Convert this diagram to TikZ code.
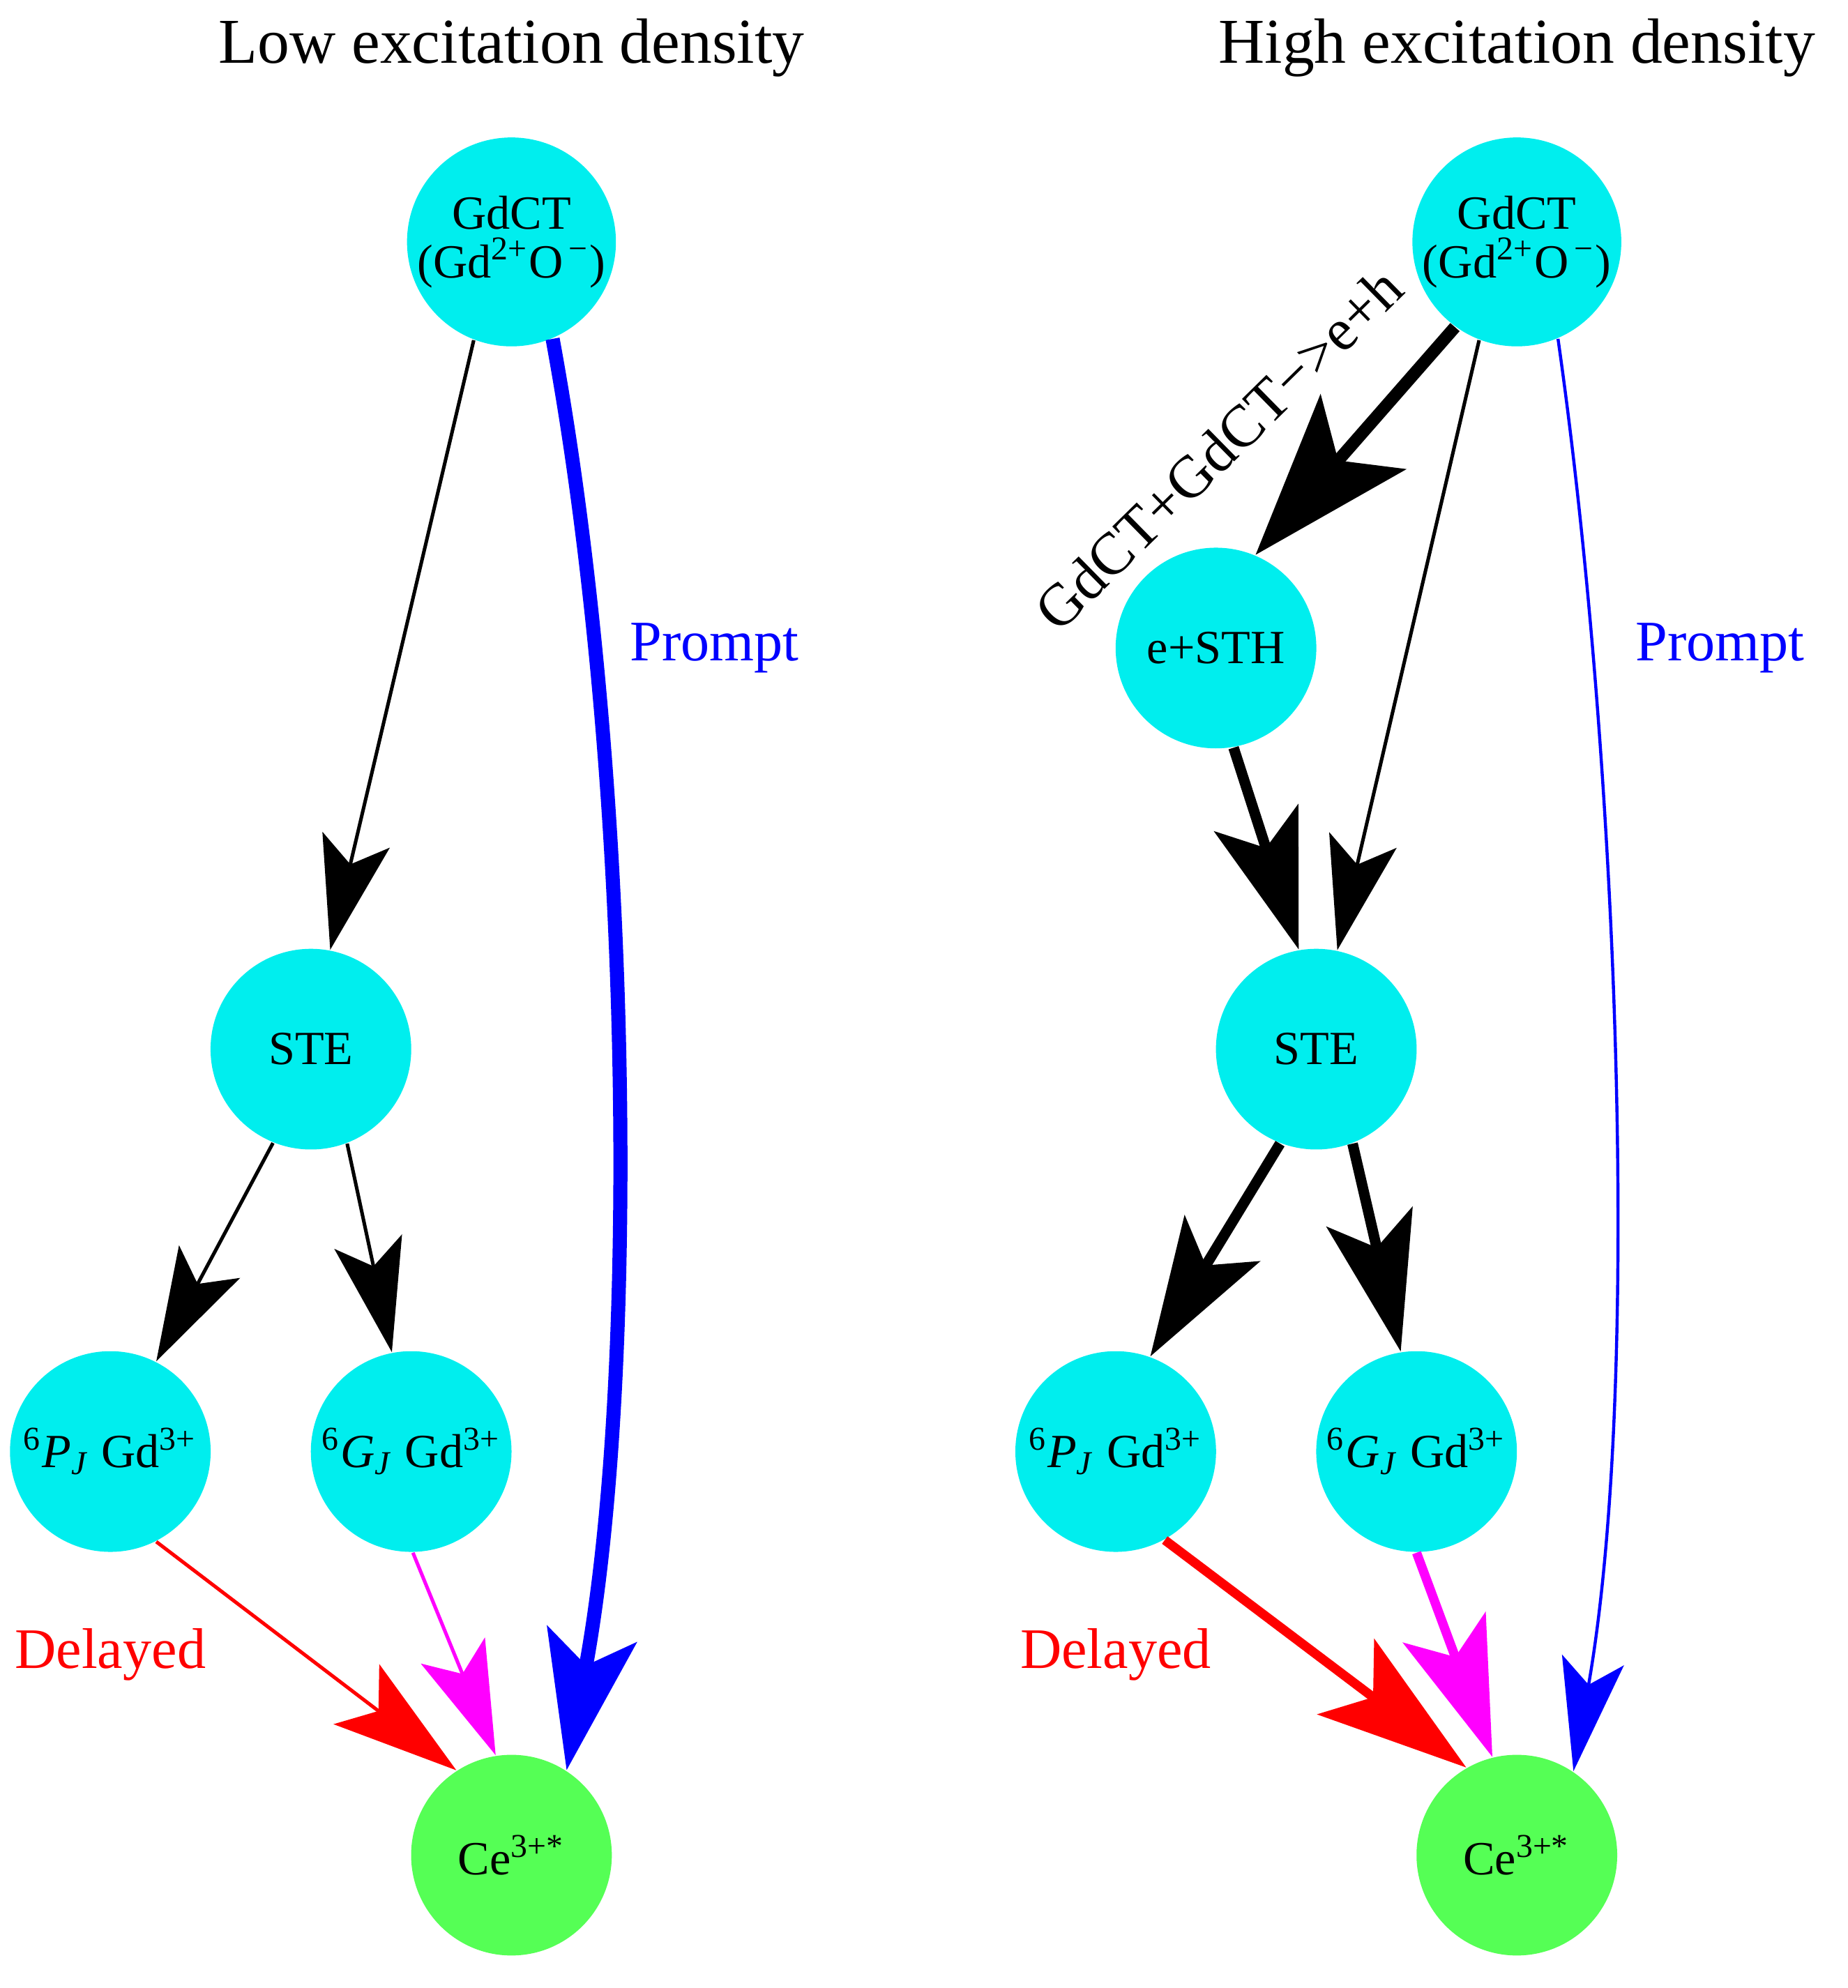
\documentclass[tikz,border=0pt]{standalone}
\usepackage{fontspec}
\setmainfont{Liberation Serif}
\usetikzlibrary{arrows.meta}
\definecolor{cy}{RGB}{0,238,238}
\definecolor{gr}{RGB}{85,255,85}
\definecolor{mg}{RGB}{255,0,255}
\begin{document}
\begin{tikzpicture}[x=0.01cm,y=-0.01cm,
  st/.style={circle,fill=cy,minimum size=1.6cm,inner sep=0pt,font=\fontsize{10.8}{12}\selectfont},
  ce/.style={st,fill=gr},
  ttl/.style={font=\fontsize{14.5}{16}\selectfont},
  lab/.style={font=\fontsize{13}{15}\selectfont},
  thin/.style={line width=0.8pt,-{Stealth[length=0.9cm,width=0.55cm,inset=0.2cm]}},
  thick/.style={line width=2.4pt,-{Stealth[length=1.1cm,width=0.7cm,inset=0.25cm]}}]
\useasboundingbox (0,0) rectangle (1474,1586);
\node[ttl] (t1) at (408,38) {Low excitation density};
\node[ttl] (t2) at (1210,38) {High excitation density};
% left
\node[st,align=center] (gl) at (408,193) {GdCT\\[-1pt](Gd\textsuperscript{2+}O\textsuperscript{\,−})};
\node[st] (sl) at (248,837) {STE};
\node[st] (pl) at (88,1158) {\textsuperscript{6}\textit{P}\textsubscript{\textit{J}} Gd\textsuperscript{3+}};
\node[st] (jl) at (328,1158) {\textsuperscript{6}\textit{G}\textsubscript{\textit{J}} Gd\textsuperscript{3+}};
\node[ce] (cl) at (408,1480) {Ce\textsuperscript{3+*}};
\node[lab,text=blue] (prl) at (570,517) {Prompt};
\node[lab,text=red] (dl) at (88,1320) {Delayed};
\draw[thin] (gl.-111) -- (sl.79);
\draw[blue,line width=3.2pt,-{Stealth[length=1.1cm,width=0.72cm,inset=0.25cm]}] (gl.-67) .. controls (505,620) and (510,1100) .. (cl.57);
\draw[thin] (sl.-112) -- (pl.63);
\draw[thin] (sl.-69) -- (jl.101);
\draw[thin,red,-{Stealth[length=1.0cm,width=0.6cm,inset=0.22cm]}] (pl.-63) -- (cl.123);
\draw[thin,mg] (jl.-89) -- (cl.99);
% right
\node[st,align=center] (gr) at (1210,193) {GdCT\\[-1pt](Gd\textsuperscript{2+}O\textsuperscript{\,−})};
\node[st] (er) at (970,517) {e+STH};
\node[st] (sr) at (1050,837) {STE};
\node[st] (pr) at (890,1158) {\textsuperscript{6}\textit{P}\textsubscript{\textit{J}} Gd\textsuperscript{3+}};
\node[st] (jr) at (1130,1158) {\textsuperscript{6}\textit{G}\textsubscript{\textit{J}} Gd\textsuperscript{3+}};
\node[ce] (cr) at (1210,1480) {Ce\textsuperscript{3+*}};
\node[lab,text=blue] (prr) at (1372,517) {Prompt};
\node[lab,text=red] (dr) at (890,1320) {Delayed};
\draw[line width=2.8pt,-{Stealth[length=1.3cm,width=0.9cm,inset=0.3cm]}] (gr.-126) -- (er.67);
\node[lab,rotate=44.5,font=\fontsize{13.5}{15}\selectfont] (gg) at (972,358) {GdCT+GdCT−>e+h};
\draw[thin] (gr.-111) -- (sr.78);
\draw[thick] (er.-80) -- (sr.100);
\draw[thick] (sr.-111) -- (pr.70);
\draw[thick] (sr.-69) -- (jr.99);
\draw[thick,red,line width=2.1pt,-{Stealth[length=1.2cm,width=0.75cm,inset=0.27cm]}] (pr.-61) -- (cr.120);
\draw[thick,mg,line width=2.1pt] (jr.-90) -- (cr.104);
\draw[blue,line width=0.7pt,-{Stealth[length=0.9cm,width=0.5cm,inset=0.2cm]}] (gr.-67) .. controls (1290,600) and (1310,1100) .. (cr.56);
\end{tikzpicture}
\end{document}
